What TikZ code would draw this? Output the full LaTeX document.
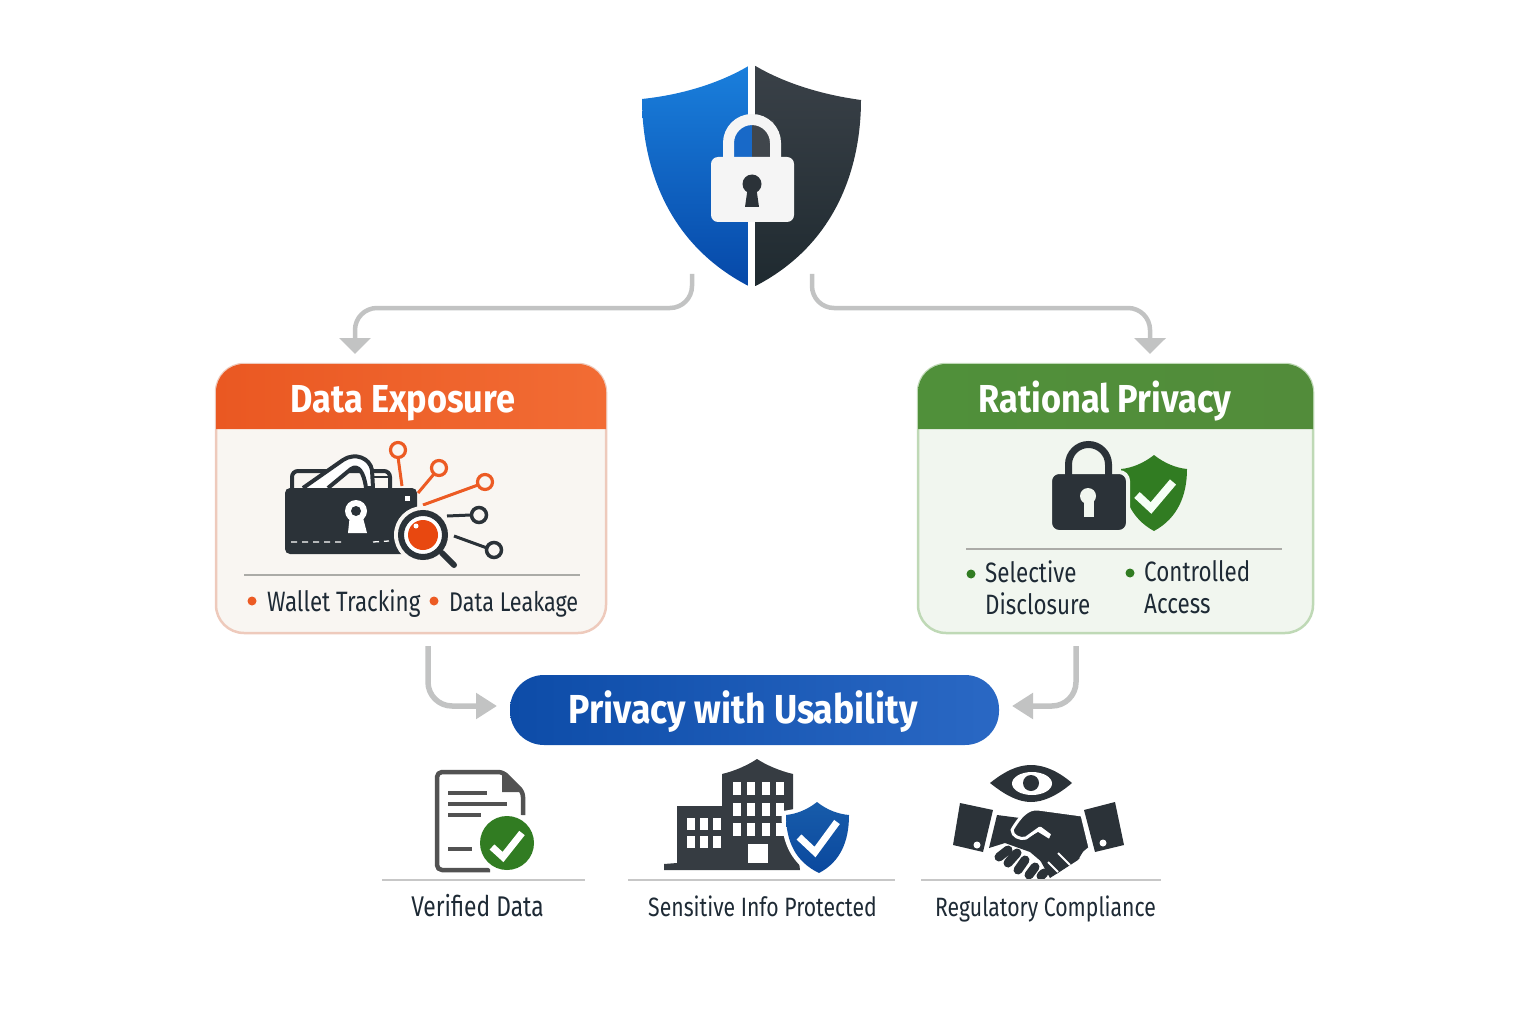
\documentclass[tikz,border=0pt]{standalone}
\usepackage{fontspec}
\setmainfont[FakeStretch=0.8]{Fira Sans}
\newfontfamily\titlefont[FakeStretch=0.88]{Fira Sans}
\usetikzlibrary{arrows.meta}
\definecolor{inkdark}{HTML}{2B3238}
\definecolor{flowgrey}{HTML}{C2C3C3}
\definecolor{expoorange}{HTML}{EC5B24}
\definecolor{privgreen}{HTML}{317C22}
\definecolor{textdark}{HTML}{1E2A35}
\definecolor{rulegrey}{HTML}{ABABA7}
\definecolor{expopaper}{HTML}{F9F6F2}
\definecolor{privpaper}{HTML}{F1F6EF}
\definecolor{shieldbluetop}{RGB}{26,127,220}
\definecolor{shieldbluelow}{RGB}{6,72,168}
\definecolor{shielddarktop}{RGB}{58,65,72}
\definecolor{shielddarklow}{RGB}{31,42,48}
\definecolor{archblue}{RGB}{24,105,200}
\definecolor{expoleft}{RGB}{234,88,34}
\definecolor{exporight}{RGB}{242,108,52}
\definecolor{expoedge}{RGB}{238,202,188}
\definecolor{privedge}{RGB}{191,217,182}
\definecolor{privleft}{RGB}{80,144,58}
\definecolor{privright}{RGB}{82,140,58}
\definecolor{loupered}{RGB}{232,72,16}
\definecolor{pillleft}{RGB}{13,76,168}
\definecolor{pillright}{RGB}{42,104,196}
\definecolor{badgetop}{RGB}{24,92,170}
\definecolor{badgelow}{RGB}{10,72,158}
\tikzset{
  flow/.style={draw=flowgrey,line width=4.5pt,-{Triangle[length=16pt,width=31pt]}},
  flowlow/.style={draw=flowgrey,line width=5.5pt,-{Triangle[length=21pt,width=25pt]}},
  cardbox/.style={rounded corners=28pt,line width=2.5pt,minimum height=269pt,inner sep=0pt},
  cardtitle/.style={text=white,font=\titlefont\fontsize{39}{39}\bfseries\selectfont,anchor=base},
  bodytext/.style={text=textdark,font=\fontsize{28}{32}\selectfont,align=left,inner sep=0pt},
  captiontext/.style={text=textdark,font=\fontsize{26.5}{30}\selectfont,inner sep=0pt,anchor=base},
  thinrule/.style={draw=rulegrey,line width=1.2pt},
  lowrule/.style={draw=black!22,line width=1.5pt},
  checkmark/.style={draw=white,line width=7pt,miter limit=10},
}
\begin{document}
\begin{tikzpicture}[x=1pt,y=-1pt]
\useasboundingbox (0,0) rectangle (1536,1024);
% shield
\path[top color=shieldbluetop,bottom color=shieldbluelow]
  (748.5,66) .. controls (718,84) and (680,95) .. (642,99) .. controls (642,155) and (660,240) .. (748.5,286) -- cycle;
\path[top color=shielddarktop,bottom color=shielddarklow]
  (755.5,66) .. controls (786,84) and (824,95) .. (861,100) .. controls (861,155) and (844,240) .. (755.5,286) -- cycle;
\fill[archblue] (730,120) rectangle (752,160);
\fill[inkdark!90!white] (752,120) rectangle (774,160);
\draw[white!96!black,line width=11pt] (728.5,160) -- (728.5,143) arc[start angle=180,end angle=360,radius=23.5] -- (775.5,160);
\node[fill=white!96!black,rounded corners=7pt,minimum width=83pt,minimum height=65pt,inner sep=0pt] (topLock) at (752.5,189.5) {};
\fill[inkdark] (752,184) circle (9.5pt);
\fill[inkdark] (748,186) -- (756,186) -- (759,207) -- (745,207) -- cycle;
\coordinate (outLeft) at (692,274);
\coordinate (outRight) at (812,274);
% data exposure card
\node[cardbox,draw=expoedge,fill=expopaper,minimum width=390pt] (expoCard) at (411,498.5) {};
\path[left color=expoleft,right color=exporight,rounded corners=28pt]
  (216,429) -- (216,364) -- (606,364) [sharp corners] -- (606,429) -- cycle;
\node[cardtitle] (expoTitle) at (403,412) {Data Exposure};
\draw[thinrule] (244,575) -- (580,575);
\fill[expoorange] (252,601) circle (4.5pt) (434,601) circle (4.5pt);
\node[bodytext,anchor=base west] (walletText) at (267,611) {Wallet Tracking};
\node[bodytext,anchor=base west,font=\fontsize{27}{32}\selectfont] (leakText) at (449,611) {Data Leakage};
% wallet
\draw[inkdark,line width=4pt,fill=expopaper,rounded corners=6pt] (292,490) -- (292,471) -- (390,471) -- (390,490);
\draw[inkdark,line width=4pt,fill=white,line join=round] (303,488) -- (343,460) .. controls (355,452) and (370,458) .. (372,470) -- (373,488) -- (366,488) .. controls (364,472) and (358,464) .. (351,469) -- (328,488);
\draw[inkdark,line width=2pt] (372,477) -- (389,477);
\fill[inkdark,rounded corners=5pt] (285,488) rectangle (417,554);
\fill[white] (405,496) rectangle (410,501);
\fill[white] (356,511) circle (11pt);
\fill[white] (350,514) -- (362,514) -- (367,533) -- (348,533) -- cycle;
\fill[inkdark] (356,511) circle (5pt);
\draw[white,line width=1.3pt,dash pattern=on 6pt off 5pt] (291,542) -- (342,542) (373,542) -- (389,541);
\draw[expoorange,line width=3pt] (398,457) -- (402,486);
\draw[expoorange,line width=3pt] (434,474) -- (418,493);
\draw[expoorange,line width=3pt] (478,485) -- (423,505);
\draw[expoorange,line width=3.2pt,fill=expopaper] (398,450) circle (7.5pt) (439,468) circle (7.5pt) (485,482) circle (7.5pt);
\draw[inkdark,line width=3pt] (447,516) -- (471,515);
\draw[inkdark,line width=3pt] (454,536) -- (487,548);
\draw[inkdark,line width=3.5pt,fill=expopaper] (479,515) circle (7.5pt) (494,550) circle (7.5pt);
\fill[expopaper] (423,535) circle (29pt);
\draw[inkdark,line width=6pt,line cap=round] (442,553) -- (454,565);
\draw[inkdark,line width=6pt,fill=white] (423,535) circle (22pt);
\fill[loupered] (423,535) circle (15pt);
\fill[white] (416,526) circle (2.5pt);
% rational privacy card
\node[cardbox,draw=privedge,fill=privpaper,minimum width=395pt] (privCard) at (1115.5,498.5) {};
\path[left color=privleft,right color=privright,rounded corners=28pt]
  (918,429) -- (918,364) -- (1313,364) [sharp corners] -- (1313,429) -- cycle;
\node[cardtitle] (privTitle) at (1105,412) {Rational Privacy};
\draw[thinrule] (966,549) -- (1282,549);
\fill[privgreen] (971,574) circle (4.5pt) (1130,573) circle (4.5pt);
\node[bodytext,anchor=north west] (selectText) at (985,560) {Selective\\Disclosure};
\node[bodytext,anchor=north west] (controlText) at (1144,560) {Controlled\\Access};
% padlock with green shield
\fill[privgreen] (1154,455) .. controls (1144,463) and (1132,468) .. (1121,469) .. controls (1122,495) and (1130,518) .. (1154,531) .. controls (1178,518) and (1187,495) .. (1187,469) .. controls (1176,468) and (1164,463) .. (1154,455) -- cycle;
\draw[white!96!green,line width=8pt,miter limit=10] (1137,495) -- (1151,508) -- (1173,482);
\node[fill=inkdark,draw=privpaper,line width=4pt,rounded corners=9pt,minimum width=78pt,minimum height=60pt,inner sep=0pt] (smallLock) at (1089,502) {};
\draw[inkdark,line width=7pt] (1068.5,476) -- (1068.5,464.5) arc[start angle=180,end angle=360,radius=20] -- (1108.5,476);
\fill[privpaper] (1088,496) circle (8pt);
\fill[privpaper] (1084,498) rectangle (1094,517);
% arrows from the shield
\draw[flow,rounded corners=22pt] (outLeft) -- ++(0,34) -| (355,354);
\draw[flow,rounded corners=22pt] (outRight) -- ++(0,34) -| (1150,354);
% usability pill
\node[rounded corners=34pt,left color=pillleft,right color=pillright,minimum width=489pt,minimum height=70pt,inner sep=0pt] (usePill) at (754.5,710) {};
\node[cardtitle,font=\titlefont\fontsize{40.5}{40}\bfseries\selectfont] (useTitle) at (743,723) {Privacy with Usability};
\coordinate (lowLeft) at (428,646);
\coordinate (lowRight) at (1076,646);
\draw[flowlow,rounded corners=24pt] (lowLeft) -- (428,706) -- (497,706);
\draw[flowlow,rounded corners=24pt] (lowRight) -- (1076,706) -- (1012,706);
% verified data
\draw[black!68,line width=4.5pt,fill=white,rounded corners=5pt,line join=round] (523,815) -- (523,792) -- (503,772) -- (437,772) -- (437,870) -- (490,870);
\fill[black!68] (502,771) -- (524,792) -- (502,792) -- cycle;
\draw[black!68,line width=4pt] (448,793) -- (487,793) (448,804) -- (507,804) (448,815) -- (481,815) (448,849) -- (472,849);
\fill[white] (507,843) circle (31pt);
\fill[privgreen] (507,843) circle (27pt);
\draw[checkmark] (492,847) -- (503,857) -- (522,833);
\draw[lowrule] (382,880) -- (585,880);
\node[captiontext,font=\fontsize{28.5}{30}\selectfont] (verifiedText) at (477.5,916) {Verified Data};
% building
\fill[inkdark!95!white] (664,870) -- (664,864) -- (677,863) -- (677,806) -- (722,806) -- (722,774) .. controls (735,771) and (748,765) .. (757,759) .. controls (766,765) and (780,771) .. (793,774) -- (793,815) -- (800,870) -- cycle;
\foreach \bx in {733,747,762,776} \foreach \by in {782,803,823} {\fill[white] (\bx,\by) rectangle ++(8,12.5);}
\foreach \bx in {687,700,713} \foreach \by in {818,836} {\fill[white] (\bx,\by) rectangle ++(8,11.5);}
\fill[white] (748,844) rectangle (768,863);
\path[fill=white,draw=white,line width=9pt] (817,802) .. controls (807,810) and (796,814) .. (786,815) .. controls (786,842) and (796,862) .. (819,873) .. controls (840,862) and (849,842) .. (849,815) .. controls (838,814) and (827,810) .. (817,802) -- cycle;
\path[top color=badgetop,bottom color=badgelow] (817,802) .. controls (807,810) and (796,814) .. (786,815) .. controls (786,842) and (796,862) .. (819,873) .. controls (840,862) and (849,842) .. (849,815) .. controls (838,814) and (827,810) .. (817,802) -- cycle;
\draw[checkmark] (799,837) -- (815,852) -- (837,822);
\draw[lowrule] (628,880) -- (895,880);
\node[captiontext] (sensitiveText) at (762.5,916) {Sensitive Info Protected};
% handshake with eye
\fill[inkdark] (990,783) .. controls (1005,771) and (1018,765) .. (1031,765) .. controls (1044,765) and (1058,771) .. (1072,783) .. controls (1058,795) and (1044,802) .. (1031,802) .. controls (1018,802) and (1005,795) .. (990,783) -- cycle;
\fill[white] (1032,783.5) ellipse (20pt and 11.5pt);
\fill[inkdark] (1031,783) circle (8pt);
\fill[inkdark] (960,803) -- (993,810) -- (983,852) -- (953,845) -- cycle;
\fill[white] (977,845) circle (3.5pt);
\fill[inkdark] (1084,810) -- (1115,802) -- (1124,845) -- (1095,852) -- cycle;
\fill[white] (1103,843) circle (3.5pt);
\fill[inkdark] (997,815) -- (1020,818) -- (1012,828) -- (1024,840) -- (1038,832) -- (1080,858) -- (1056,874) -- (1030,852) -- (1005,843) -- (989,848) -- cycle;
\draw[white,line width=3pt,fill=inkdark,line join=round] (1012,830) .. controls (1020,816) and (1028,808) .. (1038,809) -- (1082,815) -- (1090,848) -- (1079,857) -- (1040,828) -- (1026,838) .. controls (1020,840) and (1012,836) .. (1012,830) -- cycle;
\fill[inkdark] (1052,832) -- (1084,850) -- (1078,860) -- (1050,878) -- (1040,860) -- cycle;
\draw[white,line width=2pt] (1058,853) -- (1070,865) (1048,862) -- (1058,872);
\draw[inkdark,line width=9pt,line cap=round] (999,857) -- (1008,850) (1008,863) -- (1017,853) (1018,870) -- (1025,860) (1029,875) -- (1035,867) (1041,876) -- (1044,873);
\draw[lowrule] (921,880) -- (1161,880);
\node[captiontext] (complianceText) at (1045.5,916) {Regulatory Compliance};
\end{tikzpicture}
\end{document}
